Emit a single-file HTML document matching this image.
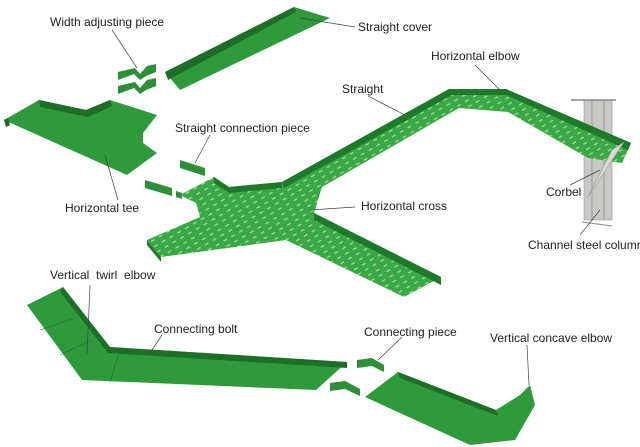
<!DOCTYPE html>
<html><head><style>
html,body{margin:0;padding:0;background:#fff;}
svg{display:block}
text{font-family:"Liberation Sans",sans-serif;font-size:12px;fill:#222;}
</style></head><body>
<svg width="640" height="447" viewBox="0 0 640 447" xmlns="http://www.w3.org/2000/svg">
<defs>
<pattern id="perf" width="9" height="6" patternUnits="userSpaceOnUse" patternTransform="rotate(-30)">
<rect width="9" height="6" fill="#3aa845"/>
<rect x="1" y="2" width="4" height="1.3" fill="#9fdc96"/>
</pattern>
</defs>
<!-- channel column -->
<rect x="584" y="100" width="28" height="120" fill="#c8c8c4" stroke="#999" stroke-width="0.6"/>
<line x1="592" y1="100" x2="592" y2="220" stroke="#999"/>
<line x1="604" y1="100" x2="604" y2="220" stroke="#999"/>
<line x1="571" y1="100" x2="616" y2="100" stroke="#888" stroke-width="1.5"/>
<line x1="582" y1="222" x2="612" y2="226" stroke="#888"/>
<!-- straight cover -->
<polygon points="165,72 294,7 330,18 180,90" fill="#2f9a3b"/>
<polygon points="165,72 294,7 296,12 168,80" fill="#1d6f28"/>
<!-- width adjusting pieces -->
<polygon points="118,72 135,68 140,74 147,66 156,64 156,72 146,76 140,80 134,74 118,80" fill="#2d8f38"/>
<polygon points="118,86 135,82 140,88 147,80 156,78 156,86 146,90 140,94 134,88 118,94" fill="#2d8f38"/>
<!-- horizontal tee -->
<polygon points="4,120 39,100 86,110 110,100 157,115 143,133 143,143 157,153 127,175" fill="#2f9a3b"/>
<polygon points="39,100 86,110 110,100 112,106 88,117 40,107" fill="#1d6f28"/>
<polygon points="4,120 8,118 10,125 6,127" fill="#1d6f28"/>
<!-- small connection pieces -->
<polygon points="180,160 205,168 205,176 180,168" fill="#2d8f38"/>
<polygon points="145,180 172,188 172,196 145,188" fill="#2d8f38"/>
<polygon points="176,191 182,193 182,199 176,197" fill="#2d8f38"/>
<!-- cross + straight + elbow -->
<polygon points="180,195 214,177 229,187 282,182 449,89 506,89 631,143 622,163 588,158 508,112 459,108 322,187 314,213 441,277 404,297 286,240 161,257 147,240 200,217 196,203" fill="url(#perf)"/>
<polygon points="449,89 506,89 631,143 628,150 506,95 452,95 284,188 282,182" fill="#1e7a2a"/>
<polygon points="214,177 229,187 282,182 282,188 229,193 214,183" fill="#1e7a2a"/>
<polygon points="314,213 441,277 441,285 314,220" fill="#1e7a2a"/>
<polygon points="147,240 161,257 161,262 147,245" fill="#1e7a2a"/>
<!-- corbel -->
<polygon points="624,142 588,197 612,150" fill="#d8d8d4" stroke="#999" stroke-width="0.6"/>
<!-- bottom left piece -->
<polygon points="27,305 63,287 110,347 347,362 316,390 82,380" fill="#2f9a3b"/>
<polygon points="63,287 110,347 347,362 347,368 108,353 60,292" fill="#1d6f28"/>
<line x1="40" y1="330" x2="75" y2="318" stroke="#1d6f28" stroke-width="0.6"/>
<line x1="60" y1="355" x2="92" y2="340" stroke="#1d6f28" stroke-width="0.6"/>
<line x1="110" y1="382" x2="120" y2="350" stroke="#1d6f28" stroke-width="0.6"/>
<!-- connecting pieces -->
<polygon points="357,360 372,358 384,365 384,372 372,366 357,368" fill="#2d8f38"/>
<polygon points="330,383 345,381 360,389 360,396 345,389 330,391" fill="#2d8f38"/>
<!-- bottom right piece -->
<polygon points="365,397 398,372 496,410 520,395 530,385 535,405 515,440 470,445" fill="#2f9a3b"/>
<polygon points="398,372 496,410 498,416 400,378" fill="#1d6f28"/>
<!-- leader lines -->
<g stroke="#444" stroke-width="0.7">
<line x1="112" y1="30" x2="137" y2="68"/>
<line x1="300" y1="18" x2="355" y2="27"/>
<line x1="475" y1="65" x2="500" y2="90"/>
<line x1="368" y1="96" x2="405" y2="115"/>
<line x1="210" y1="135" x2="195" y2="163"/>
<line x1="118" y1="200" x2="105" y2="155"/>
<line x1="355" y1="207" x2="310" y2="210"/>
<line x1="570" y1="185" x2="600" y2="170"/>
<line x1="580" y1="235" x2="600" y2="210"/>
<line x1="90" y1="285" x2="87" y2="355"/>
<line x1="162" y1="335" x2="150" y2="353"/>
<line x1="402" y1="337" x2="378" y2="360"/>
<line x1="527" y1="345" x2="529" y2="385"/>
</g>
<!-- labels -->
<text x="50" y="26">Width adjusting piece</text>
<text x="358" y="31">Straight cover</text>
<text x="431" y="60">Horizontal elbow</text>
<text x="342" y="93">Straight</text>
<text x="175" y="132">Straight connection piece</text>
<text x="65" y="212">Horizontal tee</text>
<text x="361" y="210">Horizontal cross</text>
<text x="546" y="196">Corbel</text>
<text x="528" y="249">Channel steel column</text>
<text x="50" y="279" xml:space="preserve">Vertical  twirl  elbow</text>
<text x="154" y="333">Connecting bolt</text>
<text x="364" y="336">Connecting piece</text>
<text x="490" y="342">Vertical concave elbow</text>
</svg>
</body></html>
